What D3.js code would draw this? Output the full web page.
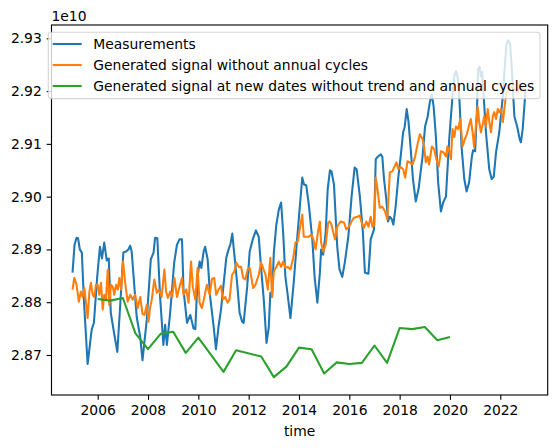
<!DOCTYPE html>
<html>
<head>
<meta charset="utf-8">
<script src="https://cdn.jsdelivr.net/npm/d3@7"></script>
<style>
  body { margin: 0; background: #fff; }
  text { font-family: "DejaVu Sans", sans-serif; }
</style>
</head>
<body>
<svg id="chart" width="556" height="448"></svg>
<script>
// values are in units of 1e10, times in decimal years
const measurements = [
  [2005.00,2.8856],[2005.08,2.8909],[2005.16,2.8922],[2005.22,2.8921],[2005.29,2.8900],[2005.37,2.8894],
  [2005.45,2.8805],[2005.60,2.8683],[2005.69,2.8719],[2005.76,2.8748],[2005.85,2.8761],[2005.98,2.8848],
  [2006.09,2.8905],[2006.17,2.8883],[2006.26,2.8913],[2006.36,2.8879],[2006.44,2.8883],[2006.52,2.8780],
  [2006.65,2.8742],[2006.78,2.8706],[2006.89,2.8791],[2007.02,2.8894],[2007.13,2.8896],[2007.22,2.8900],
  [2007.29,2.8907],[2007.35,2.8896],[2007.55,2.8772],[2007.69,2.8734],[2007.78,2.8690],[2007.95,2.8767],
  [2008.11,2.8881],[2008.22,2.8894],[2008.28,2.8922],[2008.37,2.8921],[2008.48,2.8810],[2008.61,2.8719],
  [2008.68,2.8757],[2008.75,2.8719],[2008.88,2.8780],[2009.04,2.8875],[2009.15,2.8909],[2009.25,2.8919],
  [2009.35,2.8919],[2009.41,2.8824],[2009.55,2.8761],[2009.68,2.8776],[2009.81,2.8750],[2009.88,2.8749],
  [2009.97,2.8848],[2010.05,2.8877],[2010.12,2.8865],[2010.21,2.8896],[2010.27,2.8905],[2010.37,2.8881],
  [2010.47,2.8810],[2010.61,2.8753],[2010.70,2.8711],[2010.80,2.8753],[2010.90,2.8786],[2011.11,2.8884],
  [2011.20,2.8900],[2011.27,2.8909],[2011.35,2.8930],[2011.40,2.8905],[2011.54,2.8837],[2011.64,2.8780],
  [2011.74,2.8763],[2011.80,2.8761],[2011.94,2.8829],[2012.04,2.8896],[2012.16,2.8919],[2012.29,2.8936],
  [2012.40,2.8924],[2012.49,2.8867],[2012.60,2.8805],[2012.71,2.8723],[2012.80,2.8753],[2012.86,2.8818],
  [2012.93,2.8810],[2013.00,2.8894],[2013.10,2.8947],[2013.20,2.8976],[2013.29,2.8989],[2013.37,2.8932],
  [2013.46,2.8848],[2013.55,2.8814],[2013.66,2.8770],[2013.79,2.8837],[2013.90,2.8905],[2013.99,2.8957],
  [2014.13,2.9036],[2014.20,2.9023],[2014.29,2.9021],[2014.39,2.8985],[2014.53,2.8919],[2014.62,2.8848],
  [2014.73,2.8799],[2014.83,2.8856],[2014.88,2.8900],[2014.96,2.8890],[2015.06,2.8932],[2015.14,2.9014],
  [2015.23,2.9050],[2015.29,2.9048],[2015.39,2.9023],[2015.52,2.8905],[2015.61,2.8862],[2015.72,2.8848],
  [2015.82,2.8875],[2015.96,2.8924],[2016.09,2.9000],[2016.21,2.9055],[2016.29,2.9052],[2016.42,2.9000],
  [2016.54,2.8932],[2016.62,2.8856],[2016.76,2.8854],[2016.85,2.8919],[2016.98,2.8938],[2017.05,2.9071],
  [2017.14,2.9076],[2017.25,2.9080],[2017.31,2.9076],[2017.38,2.9033],[2017.47,2.8995],[2017.54,2.8953],
  [2017.61,2.8962],[2017.69,2.8957],[2017.75,2.8947],[2017.84,2.8981],[2017.95,2.9038],[2018.04,2.9076],
  [2018.14,2.9122],[2018.20,2.9132],[2018.28,2.9166],[2018.35,2.9143],[2018.44,2.9090],[2018.53,2.9033],
  [2018.64,2.8991],[2018.75,2.9014],[2018.91,2.9076],[2019.01,2.9133],[2019.11,2.9151],[2019.20,2.9179],
  [2019.28,2.9194],[2019.35,2.9171],[2019.44,2.9114],[2019.53,2.9027],[2019.64,2.8972],[2019.73,2.8989],
  [2019.84,2.9000],[2019.97,2.9109],[2020.10,2.9190],[2020.17,2.9228],[2020.24,2.9238],[2020.30,2.9228],
  [2020.37,2.9190],[2020.46,2.9095],[2020.57,2.9033],[2020.66,2.9010],[2020.76,2.9027],[2020.87,2.9076],
  [2020.92,2.9088],[2021.00,2.9086],[2021.07,2.9160],[2021.12,2.9242],[2021.18,2.9246],[2021.23,2.9228],
  [2021.28,2.9236],[2021.34,2.9190],[2021.43,2.9122],[2021.56,2.9052],[2021.66,2.9033],[2021.74,2.9038],
  [2021.83,2.9084],[2021.96,2.9122],[2022.10,2.9190],[2022.19,2.9255],[2022.25,2.9289],[2022.32,2.9296],
  [2022.39,2.9289],[2022.45,2.9248],[2022.56,2.9152],[2022.67,2.9133],[2022.77,2.9109],[2022.82,2.9103],
  [2022.89,2.9128],[2023.00,2.9200]
];

const withoutCycles = [
  [2005.00,2.8824],[2005.07,2.8846],[2005.16,2.8833],[2005.25,2.8801],[2005.33,2.8820],[2005.40,2.8810],
  [2005.47,2.8827],[2005.53,2.8801],[2005.60,2.8770],[2005.67,2.8820],[2005.73,2.8837],[2005.80,2.8814],
  [2005.86,2.8810],[2005.93,2.8833],[2006.00,2.8833],[2006.06,2.8814],[2006.13,2.8837],[2006.20,2.8786],
  [2006.26,2.8814],[2006.33,2.8805],[2006.40,2.8862],[2006.46,2.8795],[2006.53,2.8833],[2006.60,2.8829],
  [2006.66,2.8814],[2006.73,2.8833],[2006.80,2.8824],[2006.86,2.8846],[2006.93,2.8824],[2007.01,2.8877],
  [2007.09,2.8837],[2007.19,2.8801],[2007.29,2.8814],[2007.39,2.8805],[2007.49,2.8814],[2007.59,2.8789],
  [2007.69,2.8810],[2007.78,2.8778],[2007.86,2.8776],[2007.95,2.8795],[2008.02,2.8763],[2008.08,2.8789],
  [2008.15,2.8805],[2008.25,2.8843],[2008.35,2.8818],[2008.44,2.8824],[2008.54,2.8810],[2008.65,2.8862],
  [2008.72,2.8820],[2008.79,2.8808],[2008.88,2.8820],[2008.96,2.8810],[2009.05,2.8846],[2009.15,2.8810],
  [2009.24,2.8827],[2009.35,2.8846],[2009.41,2.8814],[2009.52,2.8824],[2009.61,2.8799],[2009.71,2.8877],
  [2009.78,2.8829],[2009.88,2.8805],[2009.97,2.8865],[2010.05,2.8799],[2010.14,2.8789],[2010.24,2.8810],
  [2010.34,2.8833],[2010.45,2.8814],[2010.54,2.8844],[2010.63,2.8846],[2010.71,2.8814],[2010.80,2.8824],
  [2010.90,2.8831],[2010.98,2.8805],[2011.07,2.8810],[2011.16,2.8799],[2011.24,2.8805],[2011.34,2.8852],
  [2011.43,2.8858],[2011.51,2.8875],[2011.60,2.8867],[2011.70,2.8867],[2011.78,2.8846],[2011.87,2.8843],
  [2011.96,2.8862],[2012.04,2.8865],[2012.18,2.8827],[2012.27,2.8833],[2012.40,2.8852],[2012.49,2.8875],
  [2012.57,2.8865],[2012.67,2.8852],[2012.76,2.8824],[2012.86,2.8884],[2012.93,2.8810],[2013.00,2.8858],
  [2013.10,2.8867],[2013.20,2.8877],[2013.29,2.8867],[2013.37,2.8877],[2013.46,2.8865],[2013.55,2.8867],
  [2013.66,2.8862],[2013.77,2.8884],[2013.86,2.8913],[2013.95,2.8915],[2014.06,2.8947],[2014.13,2.8966],
  [2014.19,2.8924],[2014.30,2.8924],[2014.39,2.8924],[2014.49,2.8928],[2014.57,2.8919],[2014.66,2.8900],
  [2014.75,2.8932],[2014.83,2.8953],[2014.88,2.8913],[2014.96,2.8896],[2015.06,2.8909],[2015.16,2.8951],
  [2015.22,2.8953],[2015.29,2.8947],[2015.43,2.8919],[2015.52,2.8943],[2015.65,2.8953],[2015.79,2.8951],
  [2015.88,2.8938],[2015.98,2.8943],[2016.09,2.8953],[2016.18,2.8960],[2016.32,2.8962],[2016.41,2.8964],
  [2016.49,2.8951],[2016.58,2.8941],[2016.68,2.8953],[2016.76,2.8943],[2016.85,2.8962],[2016.92,2.8943],
  [2016.99,2.8947],[2017.05,2.9036],[2017.12,2.9014],[2017.21,2.8979],[2017.31,2.8981],[2017.42,2.8972],
  [2017.51,2.8957],[2017.61,2.9046],[2017.71,2.9048],[2017.87,2.9065],[2017.95,2.9052],[2018.04,2.9056],
  [2018.14,2.9052],[2018.22,2.9036],[2018.31,2.9067],[2018.40,2.9065],[2018.51,2.9061],[2018.61,2.9075],
  [2018.71,2.9099],[2018.80,2.9118],[2018.91,2.9109],[2018.97,2.9095],[2019.04,2.9065],[2019.11,2.9076],
  [2019.17,2.9061],[2019.28,2.9095],[2019.37,2.9090],[2019.46,2.9071],[2019.55,2.9057],[2019.64,2.9086],
  [2019.74,2.9084],[2019.84,2.9076],[2019.90,2.9095],[2019.97,2.9086],[2020.04,2.9071],[2020.10,2.9128],
  [2020.17,2.9113],[2020.24,2.9133],[2020.33,2.9128],[2020.41,2.9147],[2020.50,2.9095],[2020.59,2.9109],
  [2020.67,2.9118],[2020.77,2.9137],[2020.83,2.9147],[2020.90,2.9122],[2020.96,2.9094],[2021.03,2.9133],
  [2021.10,2.9171],[2021.16,2.9143],[2021.23,2.9122],[2021.30,2.9137],[2021.36,2.9152],[2021.43,2.9133],
  [2021.50,2.9166],[2021.56,2.9143],[2021.63,2.9122],[2021.70,2.9152],[2021.76,2.9160],[2021.83,2.9147],
  [2021.90,2.9166],[2021.96,2.9160],[2022.03,2.9166],[2022.10,2.9141],[2022.23,2.9194],[2022.30,2.9200],
  [2022.43,2.9208],[2022.50,2.9213],[2022.56,2.9204],[2022.70,2.9198],[2022.76,2.9217],[2022.83,2.9200],
  [2022.90,2.9208],[2022.96,2.9200],[2023.00,2.9204]
];

const newDates = [
  [2006.0,2.8806],[2006.5,2.8803],[2007.0,2.8808],[2007.5,2.8741],[2008.0,2.8711],[2008.5,2.8740],
  [2009.0,2.8744],[2009.5,2.8704],[2010.0,2.8733],[2011.0,2.8668],[2011.5,2.8709],[2012.5,2.8697],
  [2013.0,2.8658],[2013.5,2.8678],[2014.0,2.8714],[2014.5,2.8711],[2015.0,2.8665],[2015.5,2.8686],
  [2016.0,2.8683],[2016.5,2.8685],[2017.0,2.8718],[2017.5,2.8685],[2018.0,2.8751],[2018.5,2.8749],
  [2019.0,2.8753],[2019.5,2.8728],[2020.0,2.8734]
];

const xTickYears = [2006, 2008, 2010, 2012, 2014, 2016, 2018, 2020, 2022];
const yTickValues = [2.87, 2.88, 2.89, 2.90, 2.91, 2.92, 2.93];

const seriesNames = [
  "Measurements",
  "Generated signal without annual cycles",
  "Generated signal at new dates without trend and annual cycles"
];
const seriesColors = ["#1f77b4", "#ff7f0e", "#2ca02c"];

// === chart setup ===
const svg = d3.select("#chart");
const plotLeft = 51.5, plotRight = 547.7, plotTop = 25, plotBottom = 395;
const fontSize = 13.89;

const x = d3.scaleLinear().domain([2004.164, 2023.884]).range([plotLeft, plotRight]);
const y = d3.scaleLinear().domain([2.86242, 2.93252]).range([plotBottom, plotTop]);

svg.append("rect").attr("width", 556).attr("height", 448).attr("fill", "#fff");

const line = d3.line()
  .x(d => x(d[0]))
  .y(d => y(d[1]));

svg.append("clipPath").attr("id", "plot-clip")
  .append("rect")
  .attr("x", plotLeft).attr("y", plotTop)
  .attr("width", plotRight - plotLeft).attr("height", plotBottom - plotTop);

const plot = svg.append("g").attr("clip-path", "url(#plot-clip)");

[measurements, withoutCycles, newDates].forEach((data, i) => {
  plot.append("path")
    .datum(data)
    .attr("d", line)
    .attr("fill", "none")
    .attr("stroke", seriesColors[i])
    .attr("stroke-width", 2.08)
    .attr("stroke-linejoin", "round");
});

// === axes ===
const xAxis = svg.append("g")
  .attr("transform", `translate(0, ${plotBottom})`)
  .call(d3.axisBottom(x).tickValues(xTickYears).tickFormat(d3.format("d"))
    .tickSize(4.86).tickPadding(4.86));

const yAxis = svg.append("g")
  .attr("transform", `translate(${plotLeft}, 0)`)
  .call(d3.axisLeft(y).tickValues(yTickValues).tickFormat(d => d.toFixed(2))
    .tickSize(4.86).tickPadding(4.86));

[xAxis, yAxis].forEach(g => {
  g.select(".domain").remove();
  g.selectAll("line").attr("stroke", "#000").attr("stroke-width", 1.11);
  g.selectAll("text")
    .attr("font-family", "DejaVu Sans")
    .attr("font-size", fontSize)
    .attr("fill", "#000");
});

// spines
svg.append("rect")
  .attr("x", plotLeft).attr("y", plotTop)
  .attr("width", plotRight - plotLeft).attr("height", plotBottom - plotTop)
  .attr("fill", "none")
  .attr("stroke", "#000")
  .attr("stroke-width", 1.11);

// offset text and x label
svg.append("text")
  .attr("x", plotLeft).attr("y", 21)
  .attr("font-size", fontSize)
  .text("1e10");

svg.append("text")
  .attr("x", (plotLeft + plotRight) / 2).attr("y", 435.5)
  .attr("text-anchor", "middle")
  .attr("font-size", fontSize)
  .text("time");

// === legend ===
const legend = svg.append("g");
legend.append("rect")
  .attr("x", 48.3).attr("y", 32.3)
  .attr("width", 491.7).attr("height", 66.3)
  .attr("rx", 2.8)
  .attr("fill", "#fff").attr("fill-opacity", 0.8)
  .attr("stroke", "#ccc").attr("stroke-opacity", 0.8)
  .attr("stroke-width", 1.11);

seriesNames.forEach((name, i) => {
  const ly = 44 + i * 21;
  legend.append("line")
    .attr("x1", 52.7).attr("x2", 81.7)
    .attr("y1", ly).attr("y2", ly)
    .attr("stroke", seriesColors[i])
    .attr("stroke-width", 2.08);
  legend.append("text")
    .attr("x", 93.3).attr("y", ly)
    .attr("dy", "0.36em")
    .attr("font-size", fontSize)
    .text(name);
});
</script>
</body>
</html>
